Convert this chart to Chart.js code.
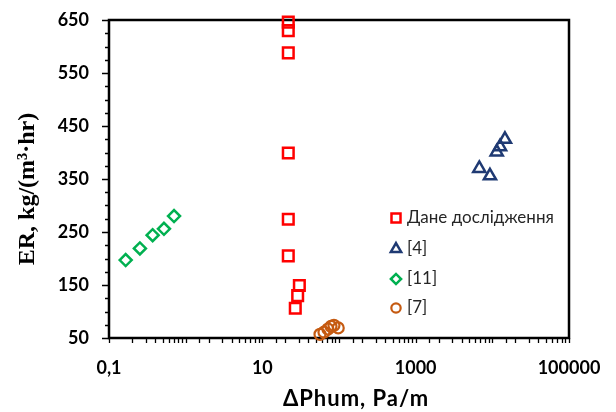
<!DOCTYPE html>
<html>
<head>
<meta charset="utf-8">
<script src="https://cdn.jsdelivr.net/npm/chart.js@4/dist/chart.umd.min.js"></script>
<style>
  html, body { margin: 0; padding: 0; background: #fff; }
  #wrap { width: 616px; height: 412px; }
</style>
</head>
<body>
<div id="wrap"><canvas id="c" width="616" height="412"></canvas></div>
<script>
// Series labels
const seriesNames = ['Дане дослідження', '[4]', '[11]', '[7]'];

// Дане дослідження: ΔPhum (Pa/m) vs ER (kg/(m³·hr))
const studyDp = [21.8, 21.8, 21.8, 21.8, 21.8, 21.8, 30.4, 28.9, 26.9];
const studyEr = [646, 630, 588, 399, 274, 205, 149, 130, 106];

// Reference [4]
const ref4Dp = [6760, 9310, 11400, 12600, 14600];
const ref4Er = [370, 356, 401, 411, 425];

// Reference [11]
const ref11Dp = [0.165, 0.253, 0.371, 0.521, 0.705];
const ref11Er = [197, 219, 244, 256, 280];

// Reference [7]
const ref7Dp = [56.5, 63.7, 71.8, 78.6, 85.9, 97.7];
const ref7Er = [57, 61, 67, 72, 74, 69];

// Axis ranges and labelled ticks
const xMin = 0.1, xMax = 100000;
const xLabelled = [0.1, 10, 1000, 100000];
const yMin = 50, yMax = 650, yMinorStep = 25;
const yLabelled = [50, 150, 250, 350, 450, 550, 650];

const xTitle = 'ΔPhum, Pa/m';
const yTitle = 'ER, kg/(m³·hr)';

const toPoints = (xs, ys) => xs.map((v, i) => ({ x: v, y: ys[i] }));

const styles = [
  { color: '#FF0000', pointStyle: 'rect', radius: 7.5, width: 2.5 },
  { color: '#1F3A73', pointStyle: 'triangle', radius: 7, width: 2.5 },
  { color: '#00B050', pointStyle: 'rectRot', radius: 6, width: 2.5 },
  { color: '#C55A11', pointStyle: 'circle', radius: 5.5, width: 2.2 }
];

const seriesData = [
  toPoints(studyDp, studyEr),
  toPoints(ref4Dp, ref4Er),
  toPoints(ref11Dp, ref11Er),
  toPoints(ref7Dp, ref7Er)
];

const isLabelledX = v => xLabelled.some(l => Math.abs(Math.log10(v) - Math.log10(l)) < 1e-6);
const isLabelledY = v => yLabelled.includes(Math.round(v));
const fmtX = v => (v < 1 ? String(v).replace('.', ',') : String(Math.round(v)));

// Frame around the plot plus outward tick marks
const frameAndTicks = {
  id: 'frameAndTicks',
  beforeDatasetsDraw(chart) {
    const { ctx, chartArea: a, scales: { x, y } } = chart;
    ctx.save();
    ctx.strokeStyle = '#000';
    ctx.lineWidth = 1.3;
    ctx.beginPath();
    x.ticks.forEach(t => {
      const px = Math.round(x.getPixelForValue(t.value)) + 0.5;
      ctx.moveTo(px, a.bottom);
      ctx.lineTo(px, a.bottom + 5);
    });
    y.ticks.forEach(t => {
      const py = Math.round(y.getPixelForValue(t.value)) + 0.5;
      const len = isLabelledY(t.value) ? 7 : 4;
      ctx.moveTo(a.left, py);
      ctx.lineTo(a.left - len, py);
    });
    ctx.stroke();
    ctx.lineWidth = 2.5;
    ctx.strokeRect(a.left, a.top, a.right - a.left, a.bottom - a.top);
    ctx.restore();
  }
};

// Axis titles and the in-plot legend
const titlesAndLegend = {
  id: 'titlesAndLegend',
  afterDraw(chart) {
    const { ctx } = chart;
    ctx.save();
    ctx.fillStyle = '#000';
    ctx.textAlign = 'center';
    ctx.textBaseline = 'middle';
    ctx.font = 'bold 22px Lato';
    ctx.letterSpacing = '1px';
    ctx.fillText(xTitle, 356, 399);
    ctx.letterSpacing = '0px';

    ctx.translate(28, 189);
    ctx.rotate(-Math.PI / 2);
    ctx.font = 'bold 24px "Liberation Serif"';
    ctx.fillText(yTitle, 0, 0);
    ctx.restore();

    ctx.save();
    const rows = [218, 249, 279, 308];
    chart.data.datasets.forEach((ds, i) => {
      const st = styles[i];
      ctx.strokeStyle = st.color;
      ctx.fillStyle = 'rgba(0,0,0,0)';
      ctx.lineWidth = st.width;
      Chart.helpers.drawPoint(ctx, { pointStyle: st.pointStyle, radius: st.radius * 0.85, rotation: 0, borderWidth: st.width }, 396, rows[i]);
      ctx.fillStyle = '#262626';
      ctx.font = '17px Lato';
      ctx.textAlign = 'left';
      ctx.textBaseline = 'middle';
      ctx.fillText(ds.label, 407, rows[i]);
    });
    ctx.restore();
  }
};

new Chart(document.getElementById('c'), {
  type: 'scatter',
  data: {
    datasets: seriesData.map((pts, i) => ({
      label: seriesNames[i],
      data: pts,
      pointStyle: styles[i].pointStyle,
      pointRadius: styles[i].radius,
      pointHoverRadius: styles[i].radius,
      borderColor: styles[i].color,
      backgroundColor: 'rgba(0,0,0,0)',
      pointBorderWidth: styles[i].width,
      clip: false
    }))
  },
  options: {
    responsive: false,
    animation: false,
    devicePixelRatio: 1,
    layout: { padding: { left: 0, top: 20, right: 47, bottom: 0 } },
    plugins: { legend: { display: false }, tooltip: { enabled: false } },
    scales: {
      x: {
        type: 'logarithmic',
        min: xMin,
        max: xMax,
        grid: { display: false, drawTicks: true, tickLength: 19 },
        border: { display: false },
        afterFit: s => { s.height = 74; },
        ticks: {
          autoSkip: false,
          maxRotation: 0,
          padding: 0,
          color: '#000',
          font: { family: 'Lato', weight: 'bold', size: 18 },
          callback: v => (isLabelledX(v) ? fmtX(v) : '')
        }
      },
      y: {
        type: 'linear',
        min: yMin,
        max: yMax,
        grid: { display: false, drawTicks: true, tickLength: 20 },
        border: { display: false },
        afterFit: s => { s.width = 109; },
        ticks: {
          stepSize: yMinorStep,
          autoSkip: false,
          padding: 0,
          color: '#000',
          font: { family: 'Lato', weight: 'bold', size: 18 },
          callback: v => (isLabelledY(v) ? String(v) : '')
        }
      }
    }
  },
  plugins: [frameAndTicks, titlesAndLegend]
});
</script>
</body>
</html>
